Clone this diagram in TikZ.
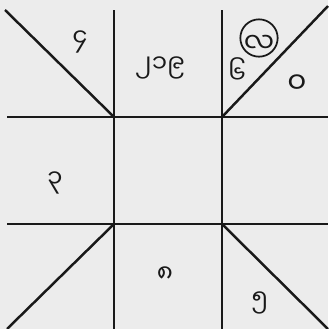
\documentclass[tikz,border=0pt]{standalone}
\usepackage{fontspec}
\usepackage{xcolor}
\usepackage{tikz}
\newfontfamily\myanfont[Script=Myanmar]{Noto Sans Myanmar UI}
\definecolor{paperGray}{RGB}{236,236,236}
\definecolor{inkGray}{RGB}{25,25,25}

\begin{document}
\begin{tikzpicture}[x=0.03cm, y=-0.03cm]
\tikzset{
    grid line/.style={
        draw=inkGray, line width=2.1pt
    },
    digit/.style={
        font=\myanfont\fontsize{21}{21}\selectfont, text=inkGray, inner sep=0pt
    },
    lagna/.style={
        circle, draw=inkGray, line width=1.5pt, minimum size=1.12cm, inner sep=0pt
    }
}
% Fondul
\fill[paperGray] (0,0) rectangle (328,329);
\useasboundingbox (0,0) rectangle (328,329);

% Puncte de retea
\coordinate (tl) at (114,117);
\coordinate (tr) at (222,117);
\coordinate (bl) at (114,224);
\coordinate (br) at (222,224);
\coordinate (vtl) at (114,10);
\coordinate (vtr) at (222,10);
\coordinate (vbl) at (114,329);
\coordinate (vbr) at (222,329);
\coordinate (hlt) at (7,117);
\coordinate (hrt) at (328,117);
\coordinate (hlb) at (7,224);
\coordinate (hrb) at (328,224);
\coordinate (ctl) at (5,10);
\coordinate (ctr) at (328,6);
\coordinate (cbl) at (7,329);
\coordinate (cbr) at (328,329);

% Liniile
\draw[grid line] (vtl) -- (vbl);
\draw[grid line] (vtr) -- (vbr);
\draw[grid line] (hlt) -- (hrt);
\draw[grid line] (hlb) -- (hrb);

% Diagonalele
\draw[grid line] (ctl) -- (tl);
\draw[grid line] (ctr) -- (tr);
\draw[grid line] (cbl) -- (bl);
\draw[grid line] (cbr) -- (br);

% Cifrele
\node[digit] (mercury) at (80,42)   {၄};
\node[digit] (top)     at (160,68)  {၂၁၉};
\node[lagna] (la)      at (259,38)  {};
\node[digit, font=\myanfont\fontsize{23}{23}\selectfont] (laText) at (259,44) {လ};
\node[digit] (venus)   at (237,71)  {၆};
\node[digit] (saturn)  at (297,84)  {\fontsize{25}{25}\selectfont ၀};
\node[digit] (mars)    at (55,183)  {၃};
\node[digit] (rahu)    at (165,275) {၈};
\node[digit] (jupiter) at (260,303) {၅};
\end{tikzpicture}
\end{document}
